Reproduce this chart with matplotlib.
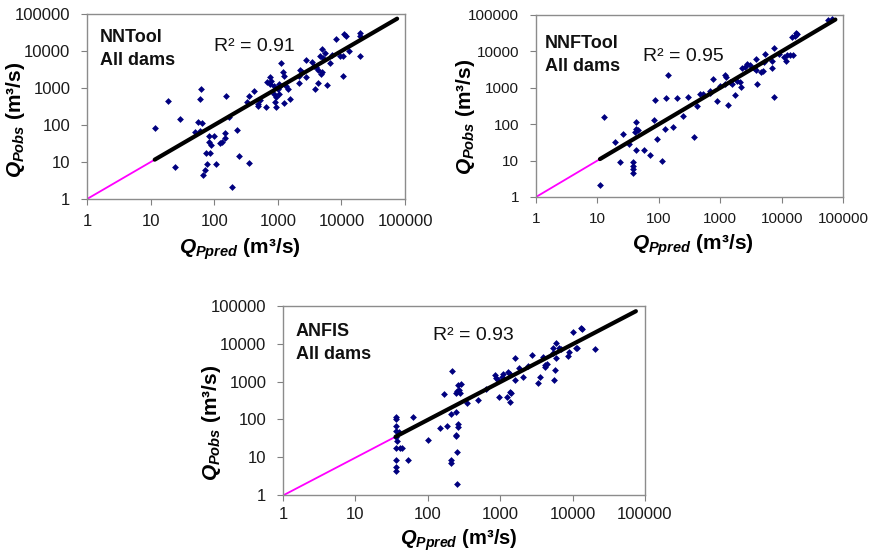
import matplotlib
matplotlib.use("Agg")
import matplotlib.pyplot as plt
import numpy as np

plt.rcParams["font.family"] = ["Liberation Sans", "DejaVu Sans"]
plt.rcParams["mathtext.fontset"] = "custom"
plt.rcParams["mathtext.it"] = "Liberation Sans:italic:bold"
plt.rcParams["mathtext.rm"] = "Liberation Sans:bold"
plt.rcParams["mathtext.bf"] = "Liberation Sans:bold"

# decade ticks shared by all panels
ticks = [1, 10, 100, 1000, 10000, 100000]
tick_labels = ["1", "10", "100", "1000", "10000", "100000"]

# NNTool, all dams
nn_pred = [11.6, 19, 29, 24.5, 63, 59, 155, 55, 65, 50, 59, 83, 100, 83, 89, 73, 87,
           78, 107, 72, 66, 124, 133, 150, 150, 230, 245, 190, 350, 170,
           350, 420, 330, 525, 490, 490, 650, 740, 790, 740, 680, 860, 1030, 1090,
           1020, 1060, 870, 950, 890, 920, 1230, 1200, 1140, 1320, 1440, 1550, 1250,
           2130, 2130, 2250, 2400, 2800, 2800, 3460, 3650, 4000, 4300, 4900, 4800,
           4300, 3800, 6000, 4600, 5100, 5000, 5600, 6600, 9600, 10500, 13000, 10700,
           8300, 11000, 11800, 19500, 19500, 19500, 7000]
nn_obs = [81, 445, 145, 7.5, 940, 500, 620, 123, 111, 66, 70, 50, 50, 35, 29, 18, 18,
          8.7, 8.7, 6.1, 4.5, 32, 35, 62, 44, 73, 14.5, 2.1, 9.6, 168,
          620, 810, 410, 470, 370, 330, 315, 1950, 1580, 1290, 1420, 1150, 1290, 1150,
          940, 690, 690, 560, 410, 310, 2150, 2650, 4650, 1150, 940, 490, 390,
          2140, 1370, 3100, 2650, 1950, 5700, 4950, 4000, 3600, 3100, 2650, 2400,
          1370, 940, 1180, 7200, 6400, 11500, 8700, 4900, 7400, 7400, 10200, 2100,
          21000, 29000, 26000, 31000, 26000, 7300, 7800]

# NNFTool, all dams
nnf_pred = [11, 13, 19, 23.6, 26, 33, 38, 38, 38, 38, 41, 43, 43, 45, 43, 57, 72, 83,
            93, 87, 111, 126, 130, 143, 169, 195, 247, 295,
            375, 415, 460, 515, 680, 680, 775, 875, 1000, 1210, 1230, 1180, 1320, 1440,
            1540, 1710, 1900, 2100, 2150, 2250, 2500, 2760, 3090, 3600, 3800, 3950,
            4550, 4900, 3800, 5300, 5100, 7400, 6900, 7000, 7400, 9100, 10900, 12300,
            13700, 15300, 11700, 15000, 16500, 17800, 17000, 57000, 66000]
nnf_obs = [2.1, 155, 32, 8.9, 54, 29, 9, 7.3, 5.9, 4.6, 60, 74, 117, 69, 19, 19, 14.5,
           130, 39, 470, 10, 74, 510, 2250, 82, 540, 171, 550,
           45, 310, 680, 680, 830, 720, 1740, 425, 1100, 2300, 1950, 1270, 345, 1410,
           1270, 630, 1580, 1410, 1070, 3400, 3800, 4400, 4100, 3400, 3000, 1260,
           2680, 2850, 6200, 8500, 5000, 12300, 5600, 3600, 550, 8500, 6900, 8000,
           8100, 8100, 5600, 24500, 27000, 30000, 32000, 72000, 80000]

# ANFIS, all dams
anfis_pred = [36, 36, 36, 36, 36, 36, 36, 36, 36, 40, 41, 44, 38, 53, 62, 100, 147, 187,
              166, 218, 208, 245, 260, 260, 245, 245, 255, 212, 207, 250, 245, 255, 280,
              260, 290, 270, 345, 490,
              630, 850, 890, 940, 960, 1230, 1050, 1100, 1290, 1350, 1370, 1430, 1350,
              1620, 1590, 1830, 2080, 2450, 2770, 3300, 3600, 3900, 4100, 4200, 4400,
              5300, 5400, 5500, 5700, 6000, 5900, 6600, 7000, 8700, 8900, 10300, 11000,
              11600, 13000, 13300, 20600]
anfis_obs = [118, 100, 68, 49, 34, 17, 8.4, 5.6, 4.3, 47, 17, 17, 27, 8.4, 113, 28.6, 58, 68,
             470, 1950, 139, 154, 76, 64, 39, 36, 14, 8.4, 7.2, 2.0, 490, 575, 490,
             810, 870, 600, 277, 325,
             630, 1490, 1260, 1100, 385, 385, 1300, 1550, 1830, 1550, 540, 490, 295,
             4100, 1100, 2240, 1350, 2630, 5000, 900, 1350, 4600, 2500, 2750, 3000,
             7600, 5600, 1100, 2040, 4150, 10700, 7900, 7100, 4800, 6200, 21000, 7600,
             7600, 25700, 24500, 7300]

# power trend y = a * x^b, drawn up to fit_xmax
fit_a = [1.0, 1.0, 0.97]
fit_b = [1.0, 1.0, 1.0]
fit_xmax = 75000

panels = [
    dict(pred=nn_pred, obs=nn_obs, name="NNTool", r2="R² = 0.91",
         rect=[0.0998, 0.6401, 0.3647, 0.3345], r2pos=(0.40, 0.87), tpos=(0.04, 0.92),
         tsize=12, ylab=(-0.189, 0.43), xlab=(0.481, -0.205)),
    dict(pred=nnf_pred, obs=nnf_obs, name="NNFTool", r2="R² = 0.95",
         rect=[0.6147, 0.6438, 0.3521, 0.3291], r2pos=(0.35, 0.82), tpos=(0.03, 0.89),
         tsize=11, ylab=(-0.192, 0.44), xlab=(0.51, -0.195)),
    dict(pred=anfis_pred, obs=anfis_obs, name="ANFIS", r2="R² = 0.93",
         rect=[0.3245, 0.1049, 0.4151, 0.3418], r2pos=(0.415, 0.89), tpos=(0.035, 0.91),
         tsize=12, ylab=(-0.166, 0.38), xlab=(0.485, -0.17)),
]

fig = plt.figure(figsize=(8.72, 5.53), dpi=100)

for i, p in enumerate(panels):
    ax = fig.add_axes(p["rect"])
    ax.set_xscale("log")
    ax.set_yscale("log")
    ax.set_xlim(1, 100000)
    ax.set_ylim(1, 100000)

    x = np.array(p["pred"], dtype=float)
    y = np.array(p["obs"], dtype=float)
    x0 = x.min()

    # magenta extension back to the origin, black trend over the data range
    xs_back = np.array([1, x0])
    ax.plot(xs_back, fit_a[i] * xs_back ** fit_b[i], color="#ff00ff", lw=1.3, zorder=2)
    ax.scatter(x, y, marker="D", s=12, color="#00007f", linewidths=0, zorder=3)
    xs_fit = np.array([x0, fit_xmax])
    ax.plot(xs_fit, fit_a[i] * xs_fit ** fit_b[i], color="black", lw=3, zorder=4,
            solid_capstyle="round")

    ax.set_xticks(ticks, tick_labels)
    ax.set_yticks(ticks, tick_labels)
    ax.minorticks_off()
    ax.tick_params(direction="out", length=4, width=0.8, color="#808080",
                   labelsize=p["tsize"], labelcolor="#1a1a1a")
    ax.tick_params(axis="y", pad=8)
    ax.tick_params(axis="x", pad=7 if i < 2 else 5)
    for s in ax.spines.values():
        s.set_color("#8c8c8c")
        s.set_linewidth(1.0)

    ax.set_xlabel(r"$Q_{Ppred}$ (m³/s)", fontsize=15 if i < 2 else 14.5, fontweight="bold")
    ax.set_ylabel(r"$Q_{Pobs}$ (m³/s)", fontsize=15, fontweight="bold")
    ax.xaxis.set_label_coords(*p["xlab"])
    ax.yaxis.set_label_coords(*p["ylab"])

    ax.text(p["tpos"][0], p["tpos"][1], p["name"] + "\nAll dams", transform=ax.transAxes,
            ha="left", va="top", fontsize=13, fontweight="bold", linespacing=1.45,
            color="#111111")
    ax.text(p["r2pos"][0], p["r2pos"][1], p["r2"], transform=ax.transAxes,
            ha="left", va="top", fontsize=14, color="#111111")

fig.savefig("out.png", dpi=100)
